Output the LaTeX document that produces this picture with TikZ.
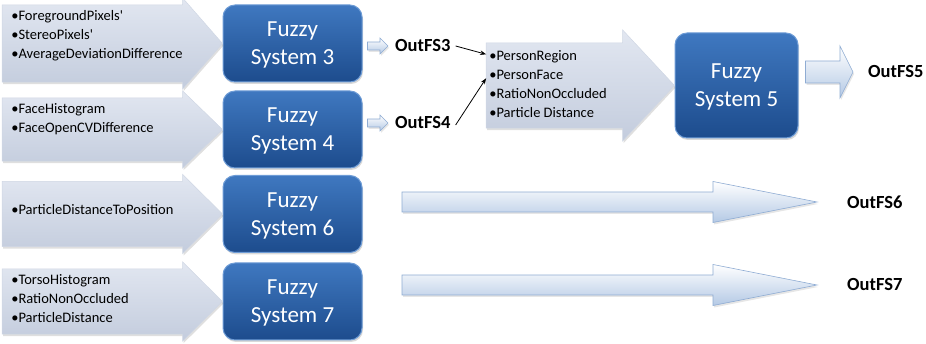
\documentclass[tikz,border=0pt]{standalone}
\usepackage{fontspec}
\setmainfont{Carlito}
\usetikzlibrary{arrows.meta,positioning,calc,shadows}

\definecolor{fstop}{HTML}{3F78C0}
\definecolor{fsbottom}{HTML}{1D4C8D}
\definecolor{fsrim}{HTML}{6E9CD6}
\definecolor{intop}{HTML}{E2E7F1}
\definecolor{inbottom}{HTML}{C3CCDD}
\definecolor{inrim}{HTML}{D0D7E4}
\definecolor{outbottom}{HTML}{B4C9E5}
\definecolor{outrim}{HTML}{8FACD3}

\begin{document}
\begin{tikzpicture}[x=1pt, y=1pt,
  every node/.style={font=\fontsize{14.5}{18.8}\selectfont},
  fsbox/.style={
    rectangle, rounded corners=12pt,
    draw=fsrim, line width=1pt, top color=fstop, bottom color=fsbottom,
    text=white, align=center, text depth=-1.5pt,
    minimum width=139pt, minimum height=77pt, inner sep=0pt,
    font=\fontsize{23}{28}\selectfont,
    drop shadow={shadow xshift=1pt, shadow yshift=-2pt, opacity=.3}
  },
  inbody/.style={rectangle, minimum width=180pt, inner sep=0pt},
  initems/.style={anchor=north west, inner sep=0pt, align=left},
  inarrow/.style={
    top color=intop, bottom color=inbottom, draw=inrim, line width=.5pt,
    drop shadow={shadow xshift=1pt, shadow yshift=-2pt, opacity=.25}
  },
  outarrow/.style={
    top color=white, bottom color=outbottom, draw=outrim, line width=.6pt,
    drop shadow={shadow xshift=1pt, shadow yshift=-2pt, opacity=.2}
  },
  outlabel/.style={anchor=west, inner sep=0pt, font=\bfseries\fontsize{18.5}{20}\selectfont},
  feed/.style={-{Stealth[length=6pt, width=4.5pt]}, line width=.8pt},
]
\useasboundingbox (0,0) rectangle (926,344);

% --- Fuzzy systems ---
\node[fsbox] (fs3) at (292.5,300.5) {Fuzzy\\System 3};
\node[fsbox] (fs4) at (292.5,214.5) {Fuzzy\\System 4};
\node[fsbox] (fs6) at (292.5,130) {Fuzzy\\System 6};
\node[fsbox] (fs7) at (292.5,42.5) {Fuzzy\\System 7};
\node[fsbox, minimum width=123pt, minimum height=105pt] (fs5) at (736.5,258.5) {Fuzzy\\System 5};

% --- Input arrow bodies ---
\node[inbody, minimum height=77pt, left=40pt of fs3] (in3) {};
\node[inbody, minimum height=63pt, left=40pt of fs4] (in4) {};
\node[inbody, minimum height=65pt, left=40pt of fs6] (in6) {};
\node[inbody, minimum height=65pt, left=40pt of fs7] (in7) {};
\node[inbody, minimum width=136pt, minimum height=85pt, left=52pt of fs5] (in5) {};

% input arrows into the boxes
\path[inarrow] (in3.north west) -- (in3.north east) -- ++(0,7) -- (fs3.west)
  -- ($(in3.south east)+(0,-7)$) -- (in3.south east) -- (in3.south west) -- cycle;
\path[inarrow] (in4.north west) -- (in4.north east) -- ++(0,7) -- (fs4.west)
  -- ($(in4.south east)+(0,-7)$) -- (in4.south east) -- (in4.south west) -- cycle;
\path[inarrow] (in6.north west) -- (in6.north east) -- ++(0,7) -- (fs6.west)
  -- ($(in6.south east)+(0,-7)$) -- (in6.south east) -- (in6.south west) -- cycle;
\path[inarrow] (in7.north west) -- (in7.north east) -- ++(0,7) -- (fs7.west)
  -- ($(in7.south east)+(0,-7)$) -- (in7.south east) -- (in7.south west) -- cycle;
\path[inarrow] (in5.north west) -- (in5.north east) -- ++(0,13) -- (fs5.west)
  -- ($(in5.south east)+(0,-13)$) -- (in5.south east) -- (in5.south west) -- cycle;

% --- Input variables ---
\node[initems] (items3) at ([shift={(9,-5.5)}]in3.north west)
  {•ForegroundPixels\textquotesingle\\•StereoPixels\textquotesingle\\•AverageDeviationDifference};
\node[initems] (items4) at ([shift={(9,-6)}]in4.north west)
  {•FaceHistogram\\•FaceOpenCVDifference};
\node[initems] (items6) at ([shift={(9,-23)}]in6.north west)
  {•ParticleDistanceToPosition};
\node[initems] (items7) at ([shift={(9,-5.5)}]in7.north west)
  {•TorsoHistogram\\•RatioNonOccluded\\•ParticleDistance};
\node[initems] (items5) at ([shift={(3,-7.5)}]in5.north west)
  {•PersonRegion\\[.2pt]•PersonFace\\[.2pt]•RatioNonOccluded\\[.2pt]•Particle Distance};

% --- Outputs ---
\node[outlabel] (out3) at (395,298) {OutFS3};
\node[outlabel] (out4) at (395,221) {OutFS4};
\node[outlabel] (out5) at (868,272) {OutFS5};
\node[outlabel] (out6) at (847,142) {OutFS6};
\node[outlabel] (out7) at (847,59) {OutFS7};

\coordinate (s3) at ($(fs3.east |- out3.west)+(5,0)$);
\coordinate (e3) at ($(out3.west)+(-7,0)$);
\coordinate (s4) at ($(fs4.east |- out4.west)+(5,0)$);
\coordinate (e4) at ($(out4.west)+(-7,0)$);
\coordinate (s5) at ($(fs5.east |- out5.west)+(7,0)$);
\coordinate (e5) at ($(out5.west)+(-15,0)$);
\coordinate (s6) at (402,142);
\coordinate (e6) at ($(out6.west)+(-30,0)$);
\coordinate (s7) at (402,59);
\coordinate (e7) at ($(out7.west)+(-30,0)$);

% small output arrows
\path[outarrow] ($(s3)+(0,4)$) -- ($(e3)+(-8,4)$) -- ($(e3)+(-8,8)$) -- (e3)
  -- ($(e3)+(-8,-8)$) -- ($(e3)+(-8,-4)$) -- ($(s3)+(0,-4)$) -- cycle;
\path[outarrow] ($(s4)+(0,4)$) -- ($(e4)+(-8,4)$) -- ($(e4)+(-8,8)$) -- (e4)
  -- ($(e4)+(-8,-8)$) -- ($(e4)+(-8,-4)$) -- ($(s4)+(0,-4)$) -- cycle;
\path[outarrow] ($(s5)+(0,11)$) -- ($(e5)+(-13,11)$) -- ($(e5)+(-13,26)$) -- (e5)
  -- ($(e5)+(-13,-26)$) -- ($(e5)+(-13,-11)$) -- ($(s5)+(0,-11)$) -- cycle;

% long output arrows
\path[outarrow] ($(s6)+(0,10)$) -- ($(e6)+(-104,10)$) -- ($(e6)+(-104,20.5)$) -- (e6)
  -- ($(e6)+(-104,-20.5)$) -- ($(e6)+(-104,-10)$) -- ($(s6)+(0,-10)$) -- cycle;
\path[outarrow] ($(s7)+(0,10)$) -- ($(e7)+(-104,10)$) -- ($(e7)+(-104,20.5)$) -- (e7)
  -- ($(e7)+(-104,-20.5)$) -- ($(e7)+(-104,-10)$) -- ($(s7)+(0,-10)$) -- cycle;

% --- Feeds into Fuzzy System 5 ---
\draw[feed] ([xshift=5pt]out3.east) -- ($(items5.north west)+(-3,-4)$);
\draw[feed] ([xshift=5pt,yshift=-2pt]out4.east) -- ($(items5.north west)+(-3,-28)$);

\end{tikzpicture}
\end{document}
